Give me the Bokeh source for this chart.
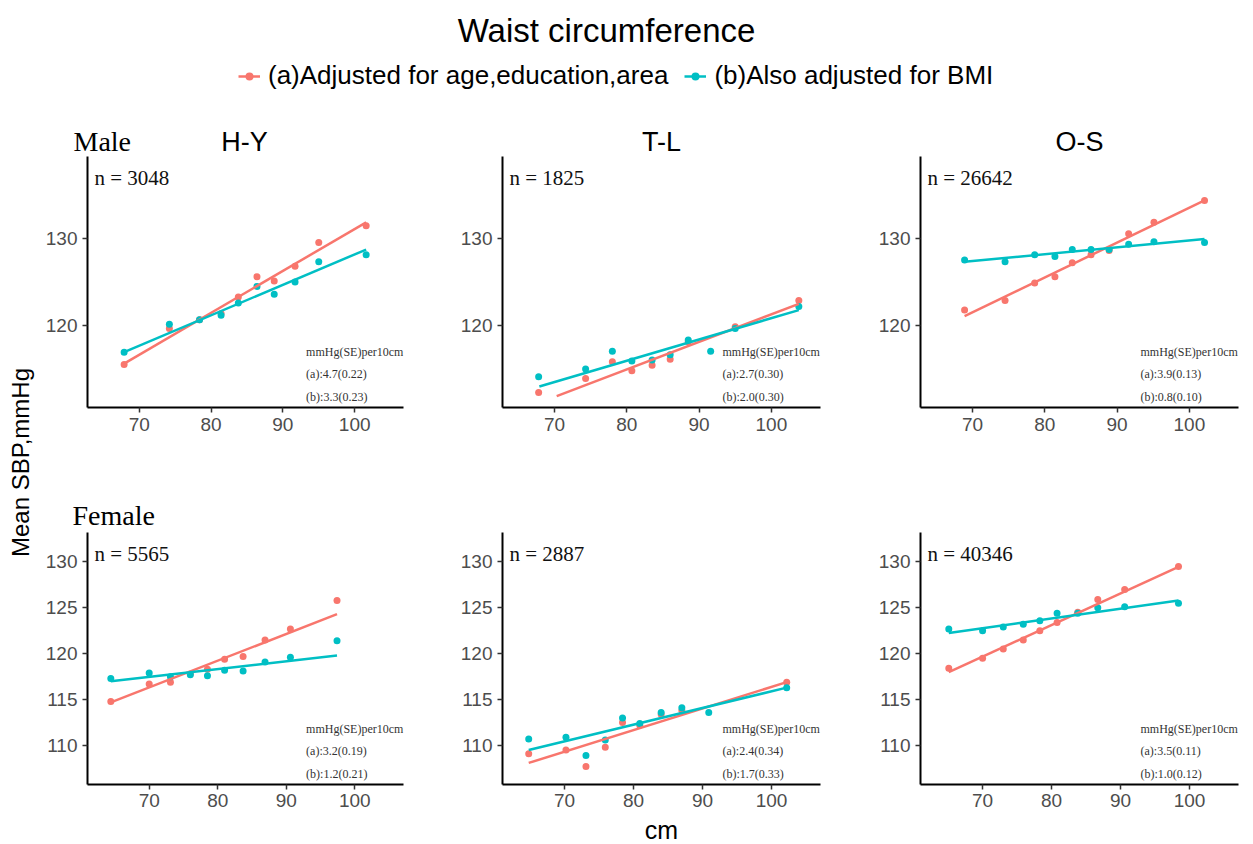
import math
from bokeh.plotting import figure
from bokeh.models import Range1d, FixedTicker, Label, Legend, LegendItem, ColumnDataSource
from bokeh.layouts import row, column
from bokeh.embed import file_html
from bokeh.resources import INLINE

RED = "#F8766D"
TEAL = "#00BFC4"
SANS = "Liberation Sans"
SERIF = "Liberation Serif"

# ---------------- data ----------------
title_text = "Waist circumference"
legend_a = "(a)Adjusted for age,education,area"
legend_b = "(b)Also adjusted for BMI"
regions = ["H-Y", "T-L", "O-S"]
sexes = ["Male", "Female"]
x_label = "cm"
y_label = "Mean SBP,mmHg"
x_ticks = [70, 80, 90, 100]
y_ticks_male = [110, 120, 130]
y_ticks_female = [110, 115, 120, 125, 130]

# Male, H-Y
waist_hy_m = [67.9, 74.2, 78.4, 81.4, 83.8, 86.4, 88.8, 91.7, 95.0, 101.6]
sbp_a_hy_m = [115.6, 119.7, 120.7, 121.4, 123.3, 125.6, 125.1, 126.8, 129.5, 131.4]
sbp_b_hy_m = [117.0, 120.2, 120.7, 121.2, 122.6, 124.5, 123.6, 125.0, 127.3, 128.1]
fitx_a_hy_m = [67.9, 101.6]; fity_a_hy_m = [115.7, 131.8]
fitx_b_hy_m = [67.9, 101.6]; fity_b_hy_m = [117.0, 128.7]

# Male, T-L
waist_tl_m = [67.8, 74.3, 78.0, 80.7, 83.5, 86.0, 88.5, 91.6, 95.0, 103.8]
sbp_a_tl_m = [112.4, 114.0, 115.9, 114.9, 115.5, 116.2, 118.2, float("nan"), 119.9, 122.9]
sbp_b_tl_m = [114.2, 115.1, 117.1, 116.0, 116.1, 116.7, 118.4, 117.1, 119.7, 122.2]
fitx_a_tl_m = [70.3, 103.8]; fity_a_tl_m = [112.0, 122.5]
fitx_b_tl_m = [67.9, 103.8]; fity_b_tl_m = [113.1, 121.8]

# Male, O-S
waist_os_m = [68.9, 74.5, 78.6, 81.4, 83.8, 86.4, 88.9, 91.6, 95.1, 102.1]
sbp_a_os_m = [121.8, 122.9, 124.9, 125.6, 127.2, 128.1, 128.6, 130.5, 131.8, 134.3]
sbp_b_os_m = [127.5, 127.3, 128.1, 127.9, 128.7, 128.7, 128.7, 129.3, 129.6, 129.5]
fitx_a_os_m = [68.9, 102.1]; fity_a_os_m = [121.1, 134.3]
fitx_b_os_m = [68.9, 102.1]; fity_b_os_m = [127.3, 129.9]

# Female, H-Y
waist_hy_f = [64.4, 70.0, 73.1, 76.0, 78.5, 81.0, 83.7, 86.9, 90.6, 97.4]
sbp_a_hy_f = [114.8, 116.7, 116.9, 117.8, 118.3, 119.4, 119.7, 121.5, 122.7, 125.8]
sbp_b_hy_f = [117.3, 117.9, 117.5, 117.7, 117.6, 118.2, 118.1, 119.1, 119.6, 121.4]
fitx_a_hy_f = [64.4, 97.4]; fity_a_hy_f = [114.7, 124.3]
fitx_b_hy_f = [64.4, 97.4]; fity_b_hy_f = [117.0, 119.8]

# Female, T-L
waist_tl_f = [64.8, 70.2, 73.1, 75.9, 78.4, 80.9, 84.0, 87.0, 90.9, 102.2]
sbp_a_tl_f = [109.1, 109.5, 107.7, 109.8, 112.5, 112.2, 113.4, 113.8, float("nan"), 116.9]
sbp_b_tl_f = [110.7, 110.9, 108.9, 110.6, 113.0, 112.4, 113.6, 114.1, 113.6, 116.3]
fitx_a_tl_f = [64.8, 102.2]; fity_a_tl_f = [108.1, 116.9]
fitx_b_tl_f = [64.8, 102.2]; fity_b_tl_f = [109.5, 116.3]

# Female, O-S
waist_os_f = [65.1, 70.0, 73.0, 75.9, 78.3, 80.8, 83.8, 86.7, 90.6, 98.4]
sbp_a_os_f = [118.4, 119.5, 120.5, 121.5, 122.5, 123.4, 124.5, 125.9, 127.0, 129.5]
sbp_b_os_f = [122.7, 122.5, 122.9, 123.2, 123.6, 124.4, 124.4, 125.0, 125.1, 125.5]
fitx_a_os_f = [65.1, 98.4]; fity_a_os_f = [118.0, 129.45]
fitx_b_os_f = [65.1, 98.4]; fity_b_os_f = [122.25, 125.8]

n_labels = ["n = 3048", "n = 1825", "n = 26642", "n = 5565", "n = 2887", "n = 40346"]
slope_header = "mmHg(SE)per10cm"
slope_a = ["(a):4.7(0.22)", "(a):2.7(0.30)", "(a):3.9(0.13)",
           "(a):3.2(0.19)", "(a):2.4(0.34)", "(a):3.5(0.11)"]
slope_b = ["(b):3.3(0.23)", "(b):2.0(0.30)", "(b):0.8(0.10)",
           "(b):1.2(0.21)", "(b):1.7(0.33)", "(b):1.0(0.12)"]

panels_data = [
    (waist_hy_m, sbp_a_hy_m, sbp_b_hy_m, fitx_a_hy_m, fity_a_hy_m, fitx_b_hy_m, fity_b_hy_m),
    (waist_tl_m, sbp_a_tl_m, sbp_b_tl_m, fitx_a_tl_m, fity_a_tl_m, fitx_b_tl_m, fity_b_tl_m),
    (waist_os_m, sbp_a_os_m, sbp_b_os_m, fitx_a_os_m, fity_a_os_m, fitx_b_os_m, fity_b_os_m),
    (waist_hy_f, sbp_a_hy_f, sbp_b_hy_f, fitx_a_hy_f, fity_a_hy_f, fitx_b_hy_f, fity_b_hy_f),
    (waist_tl_f, sbp_a_tl_f, sbp_b_tl_f, fitx_a_tl_f, fity_a_tl_f, fitx_b_tl_f, fity_b_tl_f),
    (waist_os_f, sbp_a_os_f, sbp_b_os_f, fitx_a_os_f, fity_a_os_f, fitx_b_os_f, fity_b_os_f),
]

# ---------------- layout constants (pixels) ----------------
TOTAL_W = 1253
YL_W = 42
BAND_W = TOTAL_W - YL_W
FRAME_W = 318
col_w = [408, 420, 383]
col_bl = [43, 52, 50]
col_br = [47, 50, 15]
row_h = [287, 283]
row_bt = [0, 0]
row_bb = [36, 31]
x_rng = [(62.8, 106.8), (61.0, 107.1)]
y_rng = [(110.7, 139.3), (105.75, 133.2)]
HDR_H = 94
STRIP_H = 62
MID_H = 89
FOOT_H = 29


def text_band(w, h):
    f = figure(width=w, height=h, output_backend="svg", toolbar_location=None,
               x_range=Range1d(0, w), y_range=Range1d(0, h),
               x_axis_type=None, y_axis_type=None, min_border=0, title=None)
    f.grid.visible = False
    f.outline_line_color = None
    return f


def style_axes(p):
    p.grid.visible = False
    p.outline_line_color = None
    for ax in list(p.xaxis) + list(p.yaxis):
        ax.axis_line_color = "black"
        ax.axis_line_width = 2
        ax.major_tick_line_color = "#333333"
        ax.major_tick_line_width = 1.5
        ax.major_tick_out = 5
        ax.major_tick_in = 0
        ax.minor_tick_line_color = None
        ax.major_label_text_font = SANS
        ax.major_label_text_font_size = "19px"
        ax.major_label_text_color = "#4D4D4D"
        ax.major_label_standoff = 5


figs = []
for i in range(6):
    r, c = divmod(i, 3)
    H = row_h[r] - row_bt[r] - row_bb[r]
    p = figure(width=col_w[c], height=row_h[r], output_backend="svg", toolbar_location=None,
               x_range=Range1d(*x_rng[r]), y_range=Range1d(*y_rng[r]),
               min_border_left=col_bl[c], min_border_right=col_br[c],
               min_border_top=row_bt[r], min_border_bottom=row_bb[r],
               title=None, background_fill_color="white", border_fill_color="white")
    style_axes(p)
    p.xaxis.ticker = FixedTicker(ticks=x_ticks)
    p.yaxis.ticker = FixedTicker(ticks=y_ticks_male if r == 0 else y_ticks_female)
    if r == 1:
        p.xaxis.major_label_standoff = 4

    wx, ya, yb, fxa, fya, fxb, fyb = panels_data[i]
    src = ColumnDataSource(dict(x=wx, ya=ya, yb=yb))
    p.scatter("x", "ya", source=src, size=7, color=RED, line_color=None)
    p.scatter("x", "yb", source=src, size=7, color=TEAL, line_color=None)
    p.line(fxa, fya, color=RED, line_width=2.5)
    p.line(fxb, fyb, color=TEAL, line_width=2.5)

    xs, xe = x_rng[r]
    ys, ye = y_rng[r]
    fx = lambda px: xs + px * (xe - xs) / FRAME_W
    fy = lambda px: ys + px * (ye - ys) / H

    p.add_layout(Label(x=fx(7), y=fy(H - 21), text=n_labels[i], text_font=SERIF,
                       text_font_size="21px", text_color="#111111",
                       text_align="left", text_baseline="middle"))
    for txt, off in [(slope_header, 55.5), (slope_a[i], 33.5), (slope_b[i], 11)]:
        p.add_layout(Label(x=fx(220), y=fy(off), text=txt, text_font=SERIF,
                           text_font_size="12px", text_color="#333333",
                           text_align="left", text_baseline="middle"))
    figs.append(p)

# ---------------- header (title + legend) ----------------
hdr = text_band(TOTAL_W, HDR_H)
hdr.add_layout(Label(x=606, y=HDR_H - 30, text=title_text, text_font=SANS, text_font_size="33px",
                     text_color="black", text_align="center", text_baseline="middle"))
# legend-only renderers, kept outside the visible range
dummy = ColumnDataSource(dict(x=[-1000, -999], y=[-1000, -1000]))
la = hdr.line("x", "y", source=dummy, color=RED, line_width=2.5)
sa = hdr.scatter("x", "y", source=dummy, color=RED, size=7, line_color=None)
lb = hdr.line("x", "y", source=dummy, color=TEAL, line_width=2.5)
sb = hdr.scatter("x", "y", source=dummy, color=TEAL, size=7, line_color=None)
legend = Legend(items=[LegendItem(label=legend_a, renderers=[la, sa]),
                       LegendItem(label=legend_b, renderers=[lb, sb])],
                orientation="horizontal", location=(238, 3),
                label_text_font=SANS, label_text_font_size="26px", label_text_color="black",
                glyph_width=22, glyph_height=20, label_standoff=8, spacing=16,
                padding=0, margin=0, border_line_color=None, background_fill_alpha=0)
hdr.add_layout(legend)

# ---------------- strip titles ----------------
strip = text_band(BAND_W, STRIP_H)
strip.add_layout(Label(x=31, y=15, text=sexes[0], text_font=SERIF, text_font_size="28px",
                       text_color="black", text_align="left", text_baseline="middle"))
for c, name in enumerate(regions):
    left = sum(col_w[:c]) + col_bl[c]
    strip.add_layout(Label(x=left + FRAME_W / 2, y=15, text=name, text_font=SANS,
                           text_font_size="27px", text_color="black",
                           text_align="center", text_baseline="middle"))

# ---------------- band between rows ----------------
mid = text_band(BAND_W, MID_H)
mid.add_layout(Label(x=30, y=17, text=sexes[1], text_font=SERIF, text_font_size="28px",
                     text_color="black", text_align="left", text_baseline="middle"))

# ---------------- x-axis title ----------------
foot = text_band(BAND_W, FOOT_H)
mid_left = col_w[0] + col_bl[1]
foot.add_layout(Label(x=mid_left + FRAME_W / 2, y=FOOT_H / 2, text=x_label, text_font=SANS,
                      text_font_size="25px", text_color="black",
                      text_align="center", text_baseline="middle"))

# ---------------- y-axis title ----------------
YL_H = STRIP_H + row_h[0] + MID_H + row_h[1] + FOOT_H
ylab = text_band(YL_W, YL_H)
ylab.add_layout(Label(x=20, y=YL_H - (462 - HDR_H), text=y_label, text_font=SANS,
                      text_font_size="24px", text_color="black", angle=math.pi / 2,
                      text_align="center", text_baseline="middle"))

grid = column(strip, row(*figs[:3]), mid, row(*figs[3:]), foot)
root = column(hdr, row(ylab, grid))

open("out.html", "w").write(file_html(root, INLINE))
